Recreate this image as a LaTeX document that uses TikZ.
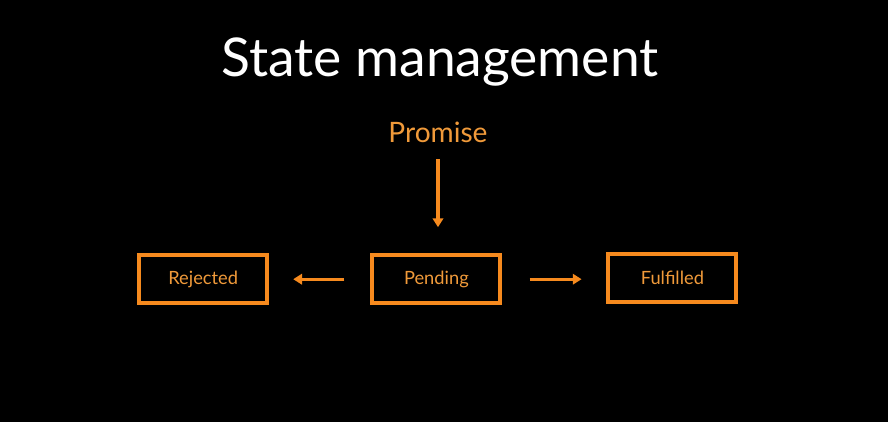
\documentclass[tikz,border=0pt]{standalone}
\usepackage{fontspec}
\setmainfont{Lato}
\usepackage{tikz}
\usetikzlibrary{arrows.meta, positioning}
\definecolor{stOrange}{HTML}{F68A1E}
\definecolor{stText}{HTML}{F09A3A}

\begin{document}
\begin{tikzpicture}[
  state/.style={draw=stOrange, line width=0.1cm, minimum width=3.2cm, minimum height=1.2cm,
                font=\fontsize{13}{15}\selectfont, text=stText},
  flow/.style={draw=stOrange, line width=0.08cm, -{Triangle[length=0.22cm, width=0.26cm]}},
]
% background and frame
\fill[black] (0,0) rectangle (22.2,10.55);
\useasboundingbox (0,0) rectangle (22.2,10.55);
% --- title ---
\node[text=white, font=\fontsize{38}{44}\selectfont] (title) at (11.0,9.0) {State management};
\node[text=stText, font=\fontsize{20}{24}\selectfont] (prom) at (10.95,7.25) {Promise};
% --- states ---
\node[state] (pend) at (10.91,3.57) {Pending};
\node[state] (rej) at (5.08,3.57) {Rejected};
\node[state] (ful) at (16.81,3.61) {Fulfilled};
% --- transitions ---
\draw[flow, shorten <=0.3cm, shorten >=0.65cm] (prom) -- (prom |- pend.north);
\draw[flow, shorten <=0.65cm, shorten >=0.6cm] (pend.west) -- (rej.east);
\draw[flow, shorten <=0.68cm, shorten >=0.62cm] (pend.east) -- (pend.east -| ful.west);
\end{tikzpicture}
\end{document}
